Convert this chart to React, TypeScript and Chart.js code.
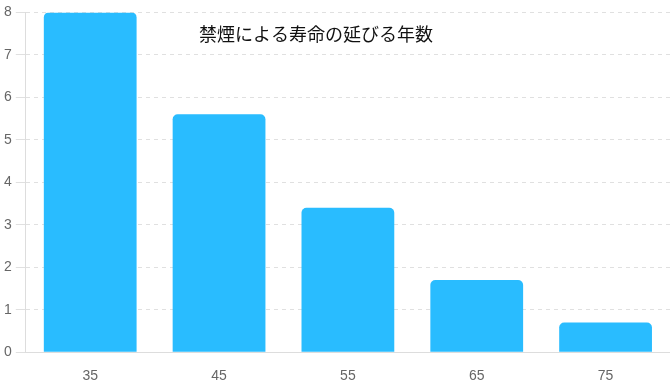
import React, { useEffect, useRef } from "react";
import { Chart, registerables } from "chart.js";

Chart.register(...registerables);

const categories = ["35", "45", "55", "65", "75"];
const values = [8, 5.6, 3.4, 1.7, 0.7];
const titleText = "禁煙による寿命の延びる年数";

const titlePlugin = {
  id: "innerTitle",
  afterDraw(chart: any) {
    const { ctx, chartArea } = chart;
    ctx.save();
    ctx.font = "18px 'Noto Sans CJK JP', sans-serif";
    ctx.fillStyle = "#111";
    ctx.textAlign = "center";
    ctx.textBaseline = "middle";
    const cx = (chartArea.left + chartArea.right) / 2 - 32;
    ctx.fillText(titleText, cx, chartArea.top + 22);
    ctx.restore();
  },
};

export default function App() {
  const ref = useRef<HTMLCanvasElement>(null);
  useEffect(() => {
    const chart = new Chart(ref.current!, {
      type: "bar",
      data: {
        labels: categories,
        datasets: [
          {
            data: values,
            backgroundColor: "#29BCFF",
            borderRadius: 5,
            borderSkipped: "bottom",
          },
        ],
      },
      options: {
        animation: false,
        responsive: false,
        layout: { padding: { top: 9, right: 0, left: 0, bottom: -14 } },
        plugins: { legend: { display: false }, tooltip: { enabled: false } },
        scales: {
          x: {
            grid: { display: false, drawTicks: false },
            border: { color: "#ddd" },
            ticks: { color: "#666", font: { size: 14, family: "Arial, 'Liberation Sans', sans-serif" }, padding: 16, maxRotation: 0 },
          },
          y: {
            min: 0,
            max: 8,
            grid: { color: "#e0e0e0", drawTicks: true, tickLength: 10 },
            border: { color: "#ddd", dash: [4, 4] },
            ticks: { stepSize: 1, color: "#666", font: { size: 14, family: "Arial, 'Liberation Sans', sans-serif" }, padding: 4 },
          },
        },
      },
      plugins: [titlePlugin],
    });
    return () => chart.destroy();
  }, []);
  return (
    <canvas
      ref={ref}
      width={670}
      height={387}
      style={{ position: "fixed", left: 0, top: 0, width: 670, height: 387, background: "#fff" }}
    />
  );
}
